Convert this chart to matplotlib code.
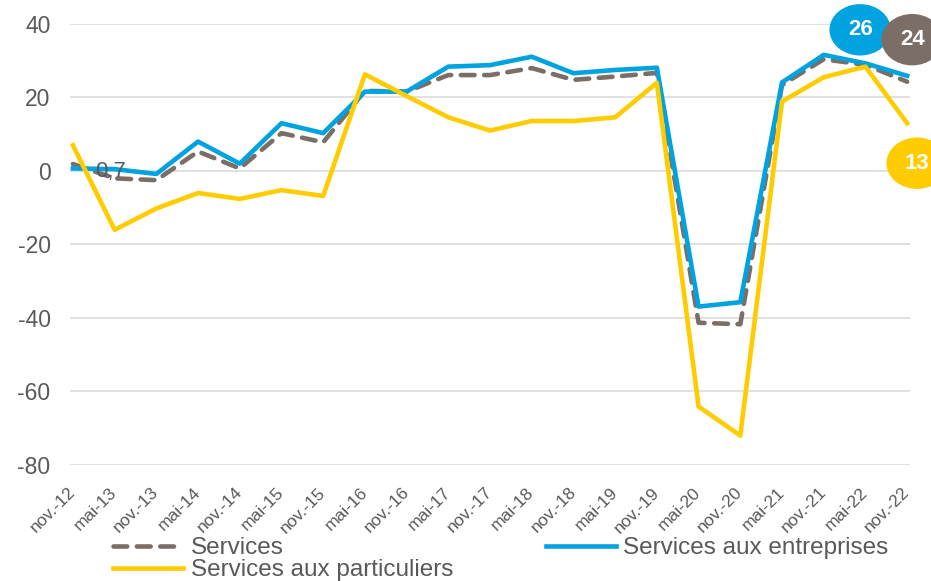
import matplotlib.pyplot as plt
from matplotlib.patches import Ellipse
from matplotlib.transforms import ScaledTranslation

plt.rcParams['font.family'] = ['Liberation Sans', 'DejaVu Sans']
plt.rcParams['axes.unicode_minus'] = False

periods = ['nov.-12', 'mai-13', 'nov.-13', 'mai-14', 'nov.-14', 'mai-15', 'nov.-15',
           'mai-16', 'nov.-16', 'mai-17', 'nov.-17', 'mai-18', 'nov.-18', 'mai-19',
           'nov.-19', 'mai-20', 'nov.-20', 'mai-21', 'nov.-21', 'mai-22', 'nov.-22']

services = [1.9, -2.0, -2.5, 5.3, 0.7, 10.3, 7.8, 21.8, 21.6, 26.1, 26.1, 28.0, 24.8,
            25.7, 26.7, -41.3, -41.7, 23.4, 30.4, 28.9, 24.3]
entreprises = [0.7, 0.5, -0.8, 8.0, 2.0, 13.0, 10.3, 21.6, 21.6, 28.4, 28.8, 31.1, 26.6,
               27.5, 28.1, -36.9, -35.7, 24.1, 31.6, 29.3, 25.9]
particuliers = [7.0, -16.0, -10.2, -6.0, -7.6, -5.2, -6.8, 26.3, 20.4, 14.6, 11.0, 13.6, 13.6,
                14.6, 24.0, -64.1, -72.0, 18.9, 25.5, 28.4, 13.0]

GRAY = '#7A6E66'
BLUE = '#00A3DF'
YELLOW = '#FFCC00'
TXT = '#595959'


def bubble(ax, x, y, dx, dy, color):
    # ellipse in inches, anchored on a data point
    trans = ax.figure.dpi_scale_trans + ScaledTranslation(x, y, ax.transData)
    ax.add_patch(Ellipse((dx, dy), 0.6, 0.5, transform=trans, color=color,
                         clip_on=False, zorder=6))
    ax.text(dx, dy, f'{y:.0f}', transform=trans, color='white', fontsize=16,
            fontweight='bold', ha='center', va='center', zorder=7, clip_on=False)


fig = plt.figure(figsize=(9.31, 5.81), dpi=100)
ax = fig.add_axes([0.0752, 0.1997, 0.9023, 0.759])

x = range(len(periods))
l1, = ax.plot(x, services, color=GRAY, lw=3.3, dashes=(3.0, 2.1),
              dash_capstyle='round', label='Services', zorder=3)
l2, = ax.plot(x, entreprises, color=BLUE, lw=3.3, label='Services aux entreprises', zorder=4)
l3, = ax.plot(x, particuliers, color=YELLOW, lw=3.3, label='Services aux particuliers', zorder=5)

ax.set_xlim(-0.07, len(periods) - 1 + 0.07)
ax.set_ylim(-80, 40)
ax.set_yticks(range(-80, 41, 20))
ax.set_xticks(list(x))
ax.set_xticklabels(periods, rotation=45, ha='right', va='center', rotation_mode='anchor',
                   fontsize=12.5, color=TXT)
ax.tick_params(axis='x', length=0, pad=18)
ax.tick_params(axis='y', length=0, pad=14, labelsize=16.5, labelcolor=TXT)
ax.grid(axis='y', color='#D9D9D9', lw=1.1)
ax.set_axisbelow(True)
for s in ax.spines.values():
    s.set_visible(False)

# first value label
ax.annotate(f'{entreprises[0]:.1f}'.replace('.', ','), xy=(0, entreprises[0]),
            xytext=(16, -2), textcoords='offset points', ha='left', va='center',
            fontsize=16, color=TXT, zorder=6)

# end bubbles
bubble(ax, 20, entreprises[-1], -0.47, 0.46, BLUE)
bubble(ax, 20, services[-1], 0.05, 0.42, GRAY)
bubble(ax, 20, particuliers[-1], 0.10, -0.40, YELLOW)

fig.legend([l1, l3, l2], [l1.get_label(), l3.get_label(), l2.get_label()],
           loc='upper left', bbox_to_anchor=(113 / 931, 1 - 537 / 581), ncol=2,
           frameon=False, fontsize=17.5, handlelength=2.9, handletextpad=0.3,
           columnspacing=3.8, labelspacing=0.0, borderpad=0, borderaxespad=0,
           labelcolor=TXT)

fig.savefig('out.png', dpi=100)
